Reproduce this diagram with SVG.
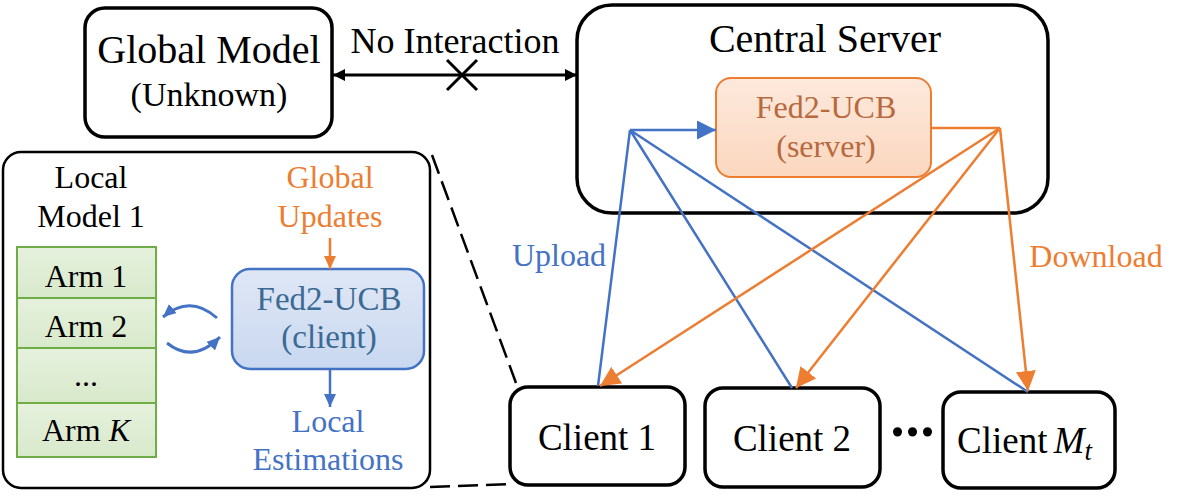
<svg xmlns="http://www.w3.org/2000/svg" width="1186" height="501" viewBox="0 0 1186 501">
<rect width="1186" height="501" fill="#fff"/>
<defs>
<linearGradient id="gOr" x1="0" y1="0" x2="0" y2="1"><stop offset="0" stop-color="#fde9dc"/><stop offset="1" stop-color="#fbd7bf"/></linearGradient>
<linearGradient id="gBl" x1="0" y1="0" x2="0" y2="1"><stop offset="0" stop-color="#dfe7f5"/><stop offset="1" stop-color="#c9d8f0"/></linearGradient>
<linearGradient id="gGr" x1="0" y1="0" x2="0" y2="1"><stop offset="0" stop-color="#e6f1dd"/><stop offset="1" stop-color="#d8e9cb"/></linearGradient>
<marker id="aBk" markerUnits="userSpaceOnUse" markerWidth="12" markerHeight="12" refX="10" refY="5" orient="auto-start-reverse" viewBox="0 0 10 10"><path d="M0,0 L10,5 L0,10 z" fill="#000"/></marker>
<marker id="aBlBig" markerUnits="userSpaceOnUse" markerWidth="19" markerHeight="19" refX="19" refY="9.5" orient="auto" viewBox="0 0 19 19"><path d="M0,0 L19,9.5 L0,19 z" fill="#4472C4"/></marker>
<marker id="aOrBig" markerUnits="userSpaceOnUse" markerWidth="20" markerHeight="20" refX="20" refY="10" orient="auto" viewBox="0 0 20 20"><path d="M0,0 L20,10 L0,20 z" fill="#ED7D31"/></marker>
<marker id="aOrS" markerUnits="userSpaceOnUse" markerWidth="13" markerHeight="12" refX="13" refY="6" orient="auto" viewBox="0 0 13 12"><path d="M0,0 L13,6 L0,12 z" fill="#ED7D31"/></marker>
<marker id="aBlS" markerUnits="userSpaceOnUse" markerWidth="13" markerHeight="12" refX="13" refY="6" orient="auto" viewBox="0 0 13 12"><path d="M0,0 L13,6 L0,12 z" fill="#4472C4"/></marker>
</defs>

<g id="global-model">
<rect x="85" y="8" width="247" height="129" rx="20" fill="#fff" stroke="#000" stroke-width="3.5"/>
<text font-family="Liberation Serif" style="font-family:'Liberation Serif',serif !important" x="209" y="63" font-size="40" text-anchor="middle" fill="#000">Global Model</text>
<text font-family="Liberation Serif" style="font-family:'Liberation Serif',serif !important" x="209" y="106" font-size="34" text-anchor="middle" fill="#000">(Unknown)</text>
</g>

<g id="central-server">
<rect x="577" y="5" width="471" height="208" rx="35" fill="#fff" stroke="#000" stroke-width="3.5"/>
<text font-family="Liberation Serif" style="font-family:'Liberation Serif',serif !important" x="825" y="52" font-size="40" text-anchor="middle" fill="#000">Central Server</text>
</g>

<g id="fed2-server">
<rect x="716" y="78" width="215" height="99" rx="15" fill="url(#gOr)" stroke="#ED7D31" stroke-width="2"/>
<text font-family="Liberation Serif" style="font-family:'Liberation Serif',serif !important" x="826" y="118" font-size="32" text-anchor="middle" fill="#b8693d">Fed2-UCB</text>
<text font-family="Liberation Serif" style="font-family:'Liberation Serif',serif !important" x="826" y="157" font-size="32" text-anchor="middle" fill="#b8693d">(server)</text>
</g>

<g id="local-model-1">
<rect x="3" y="152" width="427" height="336" rx="18" fill="#fff" stroke="#000" stroke-width="2.5"/>
<text font-family="Liberation Serif" style="font-family:'Liberation Serif',serif !important" x="91" y="188" font-size="32" text-anchor="middle" fill="#000">Local</text>
<text font-family="Liberation Serif" style="font-family:'Liberation Serif',serif !important" x="91" y="227" font-size="32" text-anchor="middle" fill="#000">Model 1</text>
</g>

<g id="arms" stroke="#70AD47" stroke-width="2" fill="url(#gGr)">
<rect x="17" y="247" width="139" height="51"/>
<rect x="17" y="298" width="139" height="50"/>
<rect x="17" y="348" width="139" height="55"/>
<rect x="17" y="403" width="139" height="54"/>
</g>
<g id="arm-labels">
<text font-family="Liberation Serif" style="font-family:'Liberation Serif',serif !important" x="86" y="287" font-size="32" text-anchor="middle" fill="#000">Arm 1</text>
<text font-family="Liberation Serif" style="font-family:'Liberation Serif',serif !important" x="86" y="337" font-size="32" text-anchor="middle" fill="#000">Arm 2</text>
<text font-family="Liberation Serif" style="font-family:'Liberation Serif',serif !important" x="86" y="386" font-size="32" text-anchor="middle" fill="#000">...</text>
<text font-family="Liberation Serif" style="font-family:'Liberation Serif',serif !important" x="86" y="441" font-size="32" text-anchor="middle" fill="#000">Arm <tspan font-style="italic">K</tspan></text>
</g>

<g id="fed2-client">
<rect x="232" y="269" width="192" height="100" rx="18" fill="url(#gBl)" stroke="#4472C4" stroke-width="2.5"/>
<text font-family="Liberation Serif" style="font-family:'Liberation Serif',serif !important" x="329" y="310" font-size="33" text-anchor="middle" fill="#3b6a94">Fed2-UCB</text>
<text font-family="Liberation Serif" style="font-family:'Liberation Serif',serif !important" x="329" y="348" font-size="33" text-anchor="middle" fill="#3b6a94">(client)</text>
</g>

<g id="global-updates-label">
<text font-family="Liberation Serif" style="font-family:'Liberation Serif',serif !important" x="330" y="188" font-size="32" text-anchor="middle" fill="#ED7D31">Global</text>
<text font-family="Liberation Serif" style="font-family:'Liberation Serif',serif !important" x="330" y="227" font-size="32" text-anchor="middle" fill="#ED7D31">Updates</text>
</g>

<g id="local-estimations-label">
<text font-family="Liberation Serif" style="font-family:'Liberation Serif',serif !important" x="328" y="432" font-size="32" text-anchor="middle" fill="#4472C4">Local</text>
<text font-family="Liberation Serif" style="font-family:'Liberation Serif',serif !important" x="328" y="470" font-size="32" text-anchor="middle" fill="#4472C4">Estimations</text>
</g>

<g id="client-1">
<rect x="510" y="387" width="175" height="98" rx="18" fill="#fff" stroke="#000" stroke-width="3.5"/>
<text font-family="Liberation Serif" style="font-family:'Liberation Serif',serif !important" x="597" y="450" font-size="37" text-anchor="middle" fill="#000">Client 1</text>
</g>
<g id="client-2">
<rect x="705" y="388" width="175" height="99" rx="18" fill="#fff" stroke="#000" stroke-width="3.5"/>
<text font-family="Liberation Serif" style="font-family:'Liberation Serif',serif !important" x="792" y="451" font-size="37" text-anchor="middle" fill="#000">Client 2</text>
</g>
<g id="client-mt">
<rect x="943" y="392" width="172" height="96" rx="18" fill="#fff" stroke="#000" stroke-width="3.5"/>
<text font-family="Liberation Serif" style="font-family:'Liberation Serif',serif !important" x="957" y="453" font-size="37" fill="#000">Client <tspan font-style="italic" dx="-3">M</tspan><tspan font-style="italic" font-size="27" dy="7">t</tspan></text>
</g>
<g id="ellipsis">
<text font-family="Liberation Serif" style="font-family:'Liberation Serif',serif !important" x="913" y="436" font-weight="bold" font-size="56" text-anchor="middle" letter-spacing="1" fill="#000">...</text>
</g>

<g id="connectors">
<line x1="333" y1="75" x2="577" y2="75" stroke="#000" stroke-width="3" marker-start="url(#aBk)" marker-end="url(#aBk)"/>
<text font-family="Liberation Serif" style="font-family:'Liberation Serif',serif !important" x="455" y="53" font-size="36" text-anchor="middle" fill="#000">No Interaction</text>
<path d="M447,60 L477,90 M477,60 L447,90" stroke="#000" stroke-width="3" fill="none"/>

<path d="M598,386 L630,130 M792,388 L630,130 M1028,392 L630,130" stroke="#4472C4" stroke-width="2.5" fill="none"/>
<path d="M630,130 L716,130" stroke="#4472C4" stroke-width="2.5" fill="none" marker-end="url(#aBlBig)"/>
<path d="M931,128 L1000,128" stroke="#ED7D31" stroke-width="2.5" fill="none"/>
<path d="M1000,128 L600,386" stroke="#ED7D31" stroke-width="2.5" fill="none" marker-end="url(#aOrBig)"/>
<path d="M1000,128 L796,388" stroke="#ED7D31" stroke-width="2.5" fill="none" marker-end="url(#aOrBig)"/>
<path d="M1000,128 L1028,391" stroke="#ED7D31" stroke-width="2.5" fill="none" marker-end="url(#aOrBig)"/>
<text font-family="Liberation Serif" style="font-family:'Liberation Serif',serif !important" x="559" y="266" font-size="32" text-anchor="middle" fill="#4472C4">Upload</text>
<text font-family="Liberation Serif" style="font-family:'Liberation Serif',serif !important" x="1096" y="267" font-size="32" text-anchor="middle" fill="#ED7D31">Download</text>

<path d="M330,238 L330,269" stroke="#ED7D31" stroke-width="2.5" fill="none" marker-end="url(#aOrS)"/>
<path d="M330,369 L330,407" stroke="#4472C4" stroke-width="2.5" fill="none" marker-end="url(#aBlS)"/>
<path d="M217,318 Q190,294 163,317" stroke="#4472C4" stroke-width="3" fill="none" marker-end="url(#aBlS)"/>
<path d="M167,343 Q193,364 220,337" stroke="#4472C4" stroke-width="3" fill="none" marker-end="url(#aBlS)"/>

<path d="M432,155 L516,383 M430,487 L510,484" stroke="#000" stroke-width="2.5" fill="none" stroke-dasharray="20 8"/>
</g>
</svg>
